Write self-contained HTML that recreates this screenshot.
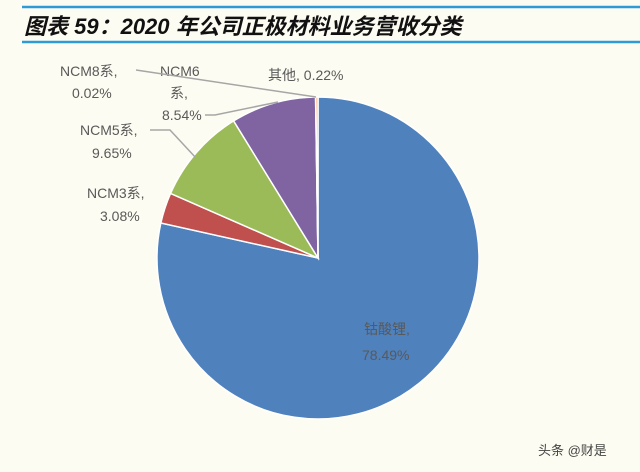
<!DOCTYPE html>
<html><head><meta charset="utf-8"><style>
body{margin:0;background:#fdfcf2;}
svg{display:block}
text{font-family:"Liberation Sans","Noto Sans CJK SC",sans-serif;}
</style></head><body>
<svg width="640" height="472">
<rect width="640" height="472" fill="#fdfcf2"/>
<line x1="22" y1="7" x2="640" y2="7" stroke="#2e9bd6" stroke-width="2.5"/>
<text x="24" y="34" font-size="22" font-weight="bold" font-style="italic" fill="#111">图表 59：2020 年公司正极材料业务营收分类</text>
<line x1="22" y1="42" x2="640" y2="42" stroke="#2e9bd6" stroke-width="2.5"/>
<g id="slices"></g>
<g fill="#595959" font-size="14">
<text x="364" y="334">钴酸锂,</text>
<text x="362" y="360">78.49%</text>
<text x="87" y="198">NCM3系,</text>
<text x="100" y="221">3.08%</text>
<text x="80" y="135">NCM5系,</text>
<text x="92" y="158">9.65%</text>
<text x="160" y="76">NCM6</text>
<text x="170" y="98">系,</text>
<text x="162" y="120">8.54%</text>
<text x="60" y="76">NCM8系,</text>
<text x="72" y="98">0.02%</text>
<text x="268" y="80">其他, 0.22%</text>
<text x="538" y="455" font-size="13" fill="#444">头条 @财是</text>
</g>
<g stroke="#a6a6a6" stroke-width="1.5" fill="none">
<polyline points="136,70 316,97"/>
<polyline points="205,115 215,115 278,102"/>
<polyline points="150,130 170,130 196,158"/>
</g>
</svg>
<script>
const categories=["钴酸锂","NCM3系","NCM5系","NCM6系","NCM8系","其他"];
const values=[78.49,3.08,9.65,8.54,0.02,0.22];
const colors=["#4f81bd","#c0504d","#9bbb59","#8064a2","#4bacc6","#f79646"];
const cx=318,cy=258,r=161;
const g=document.getElementById('slices');
const total=values.reduce((a,b)=>a+b,0);
let a0=0;
values.forEach((v,i)=>{
  const a1=a0+v/total*2*Math.PI;
  const x0=cx+r*Math.sin(a0),y0=cy-r*Math.cos(a0);
  const x1=cx+r*Math.sin(a1),y1=cy-r*Math.cos(a1);
  const p=document.createElementNS('http://www.w3.org/2000/svg','path');
  p.setAttribute('d',`M${cx},${cy}L${x0},${y0}A${r},${r} 0 ${a1-a0>Math.PI?1:0} 1 ${x1},${y1}Z`);
  p.setAttribute('fill',colors[i]);
  p.setAttribute('stroke','#fff');
  p.setAttribute('stroke-width','1.5');
  
  
  g.appendChild(p);
  a0=a1;
});
</script>
</body></html>
